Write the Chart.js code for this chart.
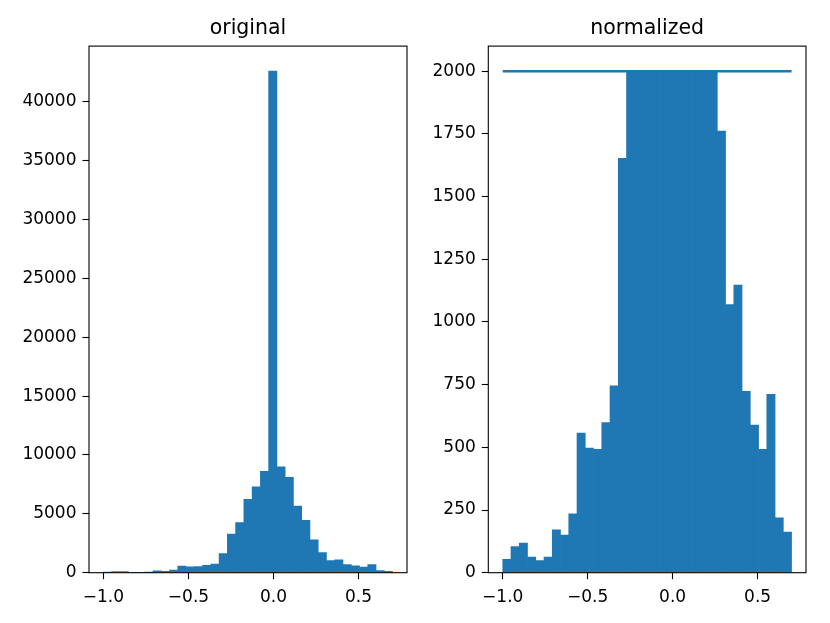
<!DOCTYPE html>
<html>
<head>
<meta charset="utf-8">
<script src="https://cdn.jsdelivr.net/npm/chart.js@4.4.1/dist/chart.umd.min.js"></script>
<style>
  html, body { margin: 0; padding: 0; background: #fff; }
  .wrap { position: relative; width: 830px; height: 623px; }
  .pane { position: absolute; top: 0; width: 415px; height: 623px; }
</style>
</head>
<body>
<div class="wrap">
  <div class="pane" style="left:0"><canvas id="left" width="415" height="623"></canvas></div>
  <div class="pane" style="left:415px"><canvas id="right" width="415" height="623"></canvas></div>
</div>
<script>
"use strict";

///////////////////////////////////////
// Data

// bin centres, 35 bins between -1.0 and 0.7
const binCenters = [
  -0.97571, -0.92714, -0.87857, -0.83, -0.78143, -0.73286, -0.68429,
  -0.63571, -0.58714, -0.53857, -0.49, -0.44143, -0.39286, -0.34429,
  -0.29571, -0.24714, -0.19857, -0.15, -0.10143, -0.05286, -0.00429,
  0.04429, 0.09286, 0.14143, 0.19, 0.23857, 0.28714, 0.33571,
  0.38429, 0.43286, 0.48143, 0.53, 0.57857, 0.62714, 0.67571,
];

const originalCounts = [
  20, 90, 90, 0, 0, 10, 150,
  110, 220, 560, 500, 510, 620, 740,
  1620, 3280, 4250, 6230, 7300, 8600, 42600,
  9000, 8100, 5660, 4450, 2800, 1700, 1030,
  1100, 700, 580, 470, 700, 190, 110,
];

const normalizedCounts = [
  53, 104, 118, 62, 48, 62, 171,
  150, 235, 557, 497, 492, 599, 745,
  1652, 2000, 2000, 2000, 2000, 2000, 2000,
  2000, 2000, 2000, 2000, 2000, 1761, 1069,
  1147, 723, 589, 492, 711, 219, 162,
];

// horizontal cap line on the right plot
const capLineX = [-1.0, 0.7];
const capLineY = [2000, 2000];

const xTicks = [-1.0, -0.5, 0.0, 0.5];
const yTicksOriginal = [0, 5000, 10000, 15000, 20000, 25000, 30000, 35000, 40000];
const yTicksNormalized = [0, 250, 500, 750, 1000, 1250, 1500, 1750, 2000];

///////////////////////////////////////
// Helpers

const blue = "#1f77b4";
const font = "'DejaVu Sans', sans-serif";

const toPoints = function (xs, ys) {
  return xs.map((x, i) => ({ x: x, y: ys[i] }));
};

const fmtX = function (v) {
  return (v < 0 ? "\u2212" : "") + Math.abs(v).toFixed(1);
};

// matplotlib-like box around the axes
const framePlugin = {
  id: "frame",
  afterDraw(chart) {
    const a = chart.chartArea;
    const ctx = chart.ctx;
    ctx.save();
    ctx.strokeStyle = "#000";
    ctx.lineWidth = 1.1;
    ctx.strokeRect(a.left, a.top, a.right - a.left, a.bottom - a.top);
    ctx.restore();
  },
};

const makeConfig = function (opts) {
  return {
    type: "bar",
    data: { datasets: opts.datasets },
    options: {
      responsive: false,
      animation: false,
      devicePixelRatio: 1,
      layout: { padding: { left: 0, right: opts.padRight, top: 0, bottom: 0 } },
      plugins: {
        legend: { display: false },
        tooltip: { enabled: false },
        title: {
          display: true,
          text: opts.title,
          fullSize: false,
          color: "#000",
          font: { family: font, size: 20.5, weight: "normal", lineHeight: 1.2 },
          padding: { top: 16, bottom: 5.5 },
        },
      },
      scales: {
        x: {
          type: "linear",
          min: -1.085,
          max: 0.785,
          offset: false,
          border: { display: false },
          grid: {
            offset: false,
            drawOnChartArea: false,
            drawTicks: true,
            tickLength: 6.5,
            tickWidth: 1.1,
            tickColor: "#000",
          },
          ticks: {
            color: "#000",
            font: { family: font, size: 17 },
            padding: 8,
            maxRotation: 0,
            callback: (v) => fmtX(v),
          },
          afterBuildTicks: (scale) => {
            scale.ticks = xTicks.map((v) => ({ value: v }));
          },
          afterFit: (scale) => {
            scale.height = 623 - 572.7;
          },
        },
        y: {
          min: 0,
          max: opts.yMax,
          border: { display: false },
          grid: {
            drawOnChartArea: false,
            drawTicks: true,
            tickLength: 6.5,
            tickWidth: 1.1,
            tickColor: "#000",
          },
          ticks: {
            color: "#000",
            font: { family: font, size: 17 },
            padding: 6,
            callback: (v) => String(v),
          },
          afterBuildTicks: (scale) => {
            scale.ticks = opts.yTicks.map((v) => ({ value: v }));
          },
          afterFit: (scale) => {
            scale.width = opts.yWidth;
          },
        },
      },
    },
    plugins: [framePlugin],
  };
};

const barDataset = function (values) {
  return {
    type: "bar",
    data: toPoints(binCenters, values),
    backgroundColor: blue,
    borderWidth: 0,
    barPercentage: 1,
    categoryPercentage: 1,
    order: 1,
  };
};

///////////////////////////////////////
// Charts

new Chart(
  document.getElementById("left"),
  makeConfig({
    title: "original",
    datasets: [barDataset(originalCounts)],
    yMax: 44730,
    yTicks: yTicksOriginal,
    yWidth: 89,
    padRight: 415 - 407,
  })
);

new Chart(
  document.getElementById("right"),
  makeConfig({
    title: "normalized",
    datasets: [
      barDataset(normalizedCounts),
      {
        type: "line",
        data: toPoints(capLineX, capLineY),
        borderColor: blue,
        borderWidth: 2.6,
        pointRadius: 0,
        fill: false,
        order: 0,
      },
    ],
    yMax: 2100,
    yTicks: yTicksNormalized,
    yWidth: 488.3 - 415,
    padRight: 830 - 806,
  })
);
</script>
</body>
</html>
